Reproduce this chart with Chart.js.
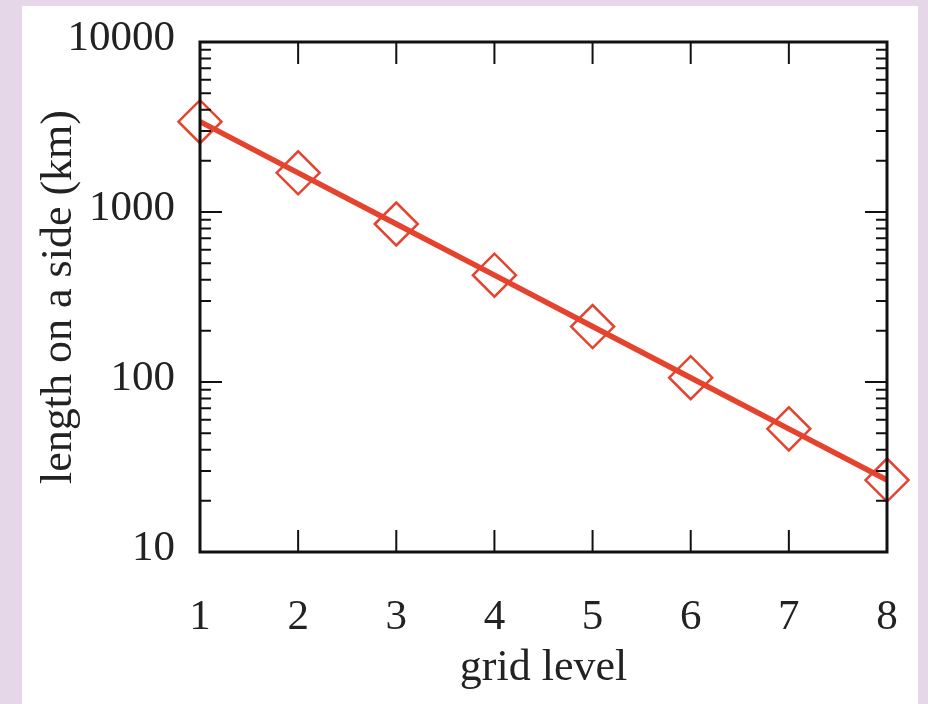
<!DOCTYPE html>
<html>
<head>
<meta charset="utf-8">
<script src="https://cdn.jsdelivr.net/npm/chart.js@4.4.1/dist/chart.umd.min.js"></script>
<style>
  html, body { margin: 0; padding: 0; background: #e5d6e8; }
  canvas { display: block; }
</style>
</head>
<body>
<canvas id="myChart" width="928" height="704"></canvas>
<script>
const gridLevels = [1, 2, 3, 4, 5, 6, 7, 8];
const sideLengths = [3400, 1700, 850, 425, 212, 106, 53, 26.5];
const yMajorTicks = [10, 100, 1000, 10000];
const xTicks = [1, 2, 3, 4, 5, 6, 7, 8];

const lineColor = '#e5432e';
const serif = "'Liberation Serif', 'DejaVu Serif', serif";

// minor ticks 2..9 inside every decade
const yAllTicks = [];
yMajorTicks.forEach((v, i) => {
  yAllTicks.push(v);
  if (i < yMajorTicks.length - 1) {
    for (let k = 2; k <= 9; k++) yAllTicks.push(v * k);
  }
});

const panelPlugin = {
  id: 'panel',
  beforeDraw(chart) {
    const ctx = chart.ctx;
    ctx.save();
    ctx.fillStyle = '#e5d6e8';
    ctx.fillRect(0, 0, chart.width, chart.height);
    ctx.fillStyle = '#ffffff';
    ctx.fillRect(22, 6, 896, chart.height - 6);
    ctx.restore();
  },
  afterDatasetsDraw(chart) {
    const ctx = chart.ctx;
    const a = chart.chartArea;
    const x = chart.scales.x, y = chart.scales.y;
    ctx.save();
    ctx.strokeStyle = '#111';
    ctx.lineWidth = 2;
    ctx.beginPath();
    yAllTicks.forEach(v => {
      const py = y.getPixelForValue(v);
      const len = yMajorTicks.includes(v) ? 22 : 11;
      ctx.moveTo(a.left, py); ctx.lineTo(a.left + len, py);
      ctx.moveTo(a.right, py); ctx.lineTo(a.right - len, py);
    });
    xTicks.forEach(v => {
      const px = x.getPixelForValue(v);
      ctx.moveTo(px, a.bottom); ctx.lineTo(px, a.bottom - 22);
      ctx.moveTo(px, a.top); ctx.lineTo(px, a.top + 22);
    });
    ctx.stroke();
    ctx.lineWidth = 3;
    ctx.strokeRect(a.left, a.top, a.right - a.left, a.bottom - a.top);
    ctx.restore();
  }
};

new Chart(document.getElementById('myChart'), {
  type: 'line',
  data: {
    datasets: [{
      data: gridLevels.map((g, i) => ({ x: g, y: sideLengths[i] })),
      borderColor: lineColor,
      borderWidth: 5.5,
      pointStyle: 'rectRot',
      pointRadius: 21.5,
      pointBorderWidth: 2.5,
      pointBorderColor: lineColor,
      pointBackgroundColor: 'rgba(0,0,0,0)',
      tension: 0,
      clip: false
    }]
  },
  options: {
    responsive: false,
    animation: false,
    layout: { padding: { top: 42, right: 41, left: 0, bottom: 0 } },
    plugins: { legend: { display: false }, tooltip: { enabled: false } },
    scales: {
      x: {
        type: 'linear',
        min: 1,
        max: 8,
        grid: { display: false, drawTicks: false },
        border: { display: false },
        ticks: {
          stepSize: 1,
          padding: 40,
          color: '#222',
          font: { family: serif, size: 43 }
        },
        title: {
          display: true,
          text: 'grid level',
          color: '#222',
          font: { family: serif, size: 44, lineHeight: 1 },
          padding: { top: 0, bottom: 14 }
        },
        afterFit(scale) {
          scale.height = 152;
          scale.paddingLeft = 0;
          scale.paddingRight = 0;
        }
      },
      y: {
        type: 'logarithmic',
        min: 10,
        max: 10000,
        grid: { display: false, drawTicks: false },
        border: { display: false },
        afterBuildTicks(scale) {
          scale.ticks = yAllTicks.map(v => ({ value: v, major: yMajorTicks.includes(v) }));
        },
        ticks: {
          autoSkip: false,
          padding: 25,
          labelOffset: -3,
          color: '#222',
          font: { family: serif, size: 43 },
          callback: (v) => yMajorTicks.includes(v) ? String(v) : ''
        },
        title: {
          display: true,
          text: 'length on a side (km)',
          color: '#222',
          font: { family: serif, size: 44, lineHeight: 1 },
          padding: { top: 37, bottom: 0 }
        },
        afterFit(scale) {
          scale.width = 200;
          scale.paddingTop = 0;
          scale.paddingBottom = 0;
        }
      }
    }
  },
  plugins: [panelPlugin]
});
</script>
</body>
</html>
